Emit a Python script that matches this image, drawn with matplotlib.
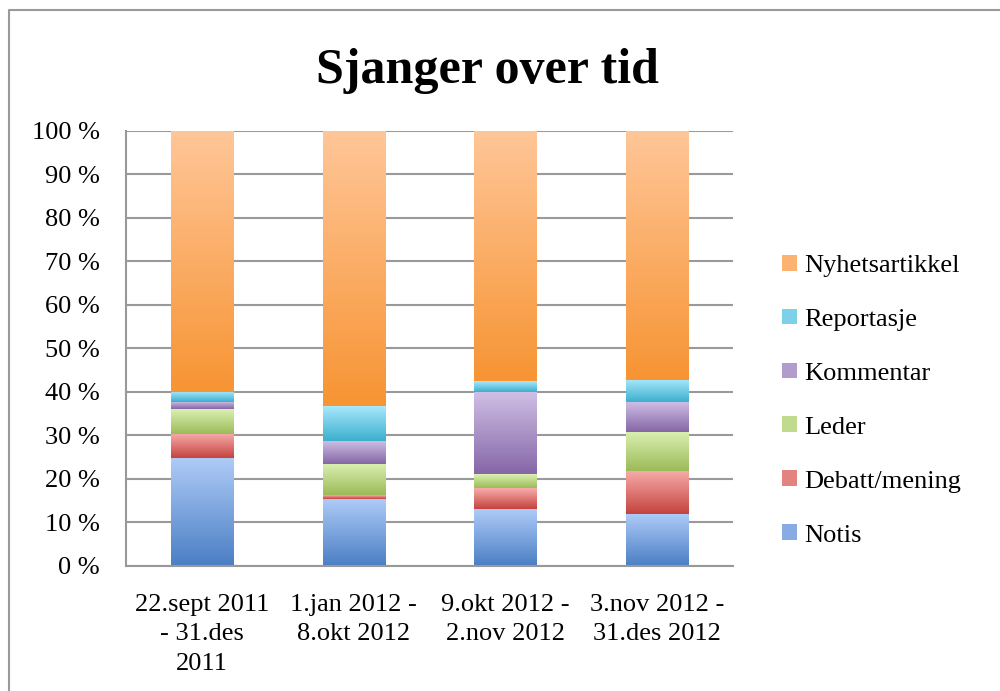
import numpy as np
import matplotlib.pyplot as plt
from matplotlib.colors import LinearSegmentedColormap
from matplotlib.patches import Rectangle
from matplotlib.lines import Line2D

plt.rcParams['font.family'] = ['Liberation Serif', 'DejaVu Serif']

# Daten (Anteile in Prozent)
perioder = ['22.sept 2011\n- 31.des\n2011', '1.jan 2012 -\n8.okt 2012',
            '9.okt 2012 -\n2.nov 2012', '3.nov 2012 -\n31.des 2012']
sjangre = ['Notis', 'Debatt/mening', 'Leder', 'Kommentar', 'Reportasje', 'Nyhetsartikkel']
notis = [24.8, 15.4, 13.1, 11.9]
debatt = [5.6, 0.9, 4.8, 9.9]
leder = [5.7, 7.2, 3.2, 9.0]
kommentar = [1.7, 5.3, 19.0, 6.9]
reportasje = [2.3, 8.0, 2.3, 5.1]
nyhet = [59.9, 63.2, 57.6, 57.2]
serier = [notis, debatt, leder, kommentar, reportasje, nyhet]

# Farben: (dunkel unten, hell oben)
farben = [('#4A7EC4', '#AECBF7'), ('#C4433E', '#F8ADAB'), ('#9CBB58', '#DAF0B2'),
          ('#8566A6', '#D0C0E6'), ('#3BAFCD', '#A8E8FC'), ('#F79433', '#FFC698')]

fig = plt.figure(figsize=(10, 6.91), dpi=100)
ax = fig.add_axes([0.126, 0.181, 0.607, 0.6295])

x = np.arange(len(perioder))
grad = np.linspace(0, 1, 256).reshape(-1, 1)
bunn = np.zeros(len(perioder))
handles = []
for navn, verdier, (mork, lys) in zip(sjangre, serier, farben):
    bars = ax.bar(x, verdier, 0.41, bottom=bunn, color=mork, zorder=2, label=navn)
    cmap = LinearSegmentedColormap.from_list(navn, [mork, lys])
    for b in bars:
        b.set_facecolor('none')
        bx, by = b.get_x(), b.get_y()
        ax.imshow(grad, extent=[bx, bx + b.get_width(), by, by + b.get_height()],
                  origin='lower', aspect='auto', cmap=cmap, zorder=2)
    handles.append(Rectangle((0, 0), 1, 1, facecolor=cmap(0.6), edgecolor='none'))
    bunn += np.array(verdier)

ax.set_xlim(-0.5, 3.5)
ax.set_ylim(0, 100)
ax.set_yticks(np.arange(0, 101, 10))
ax.set_yticklabels([f'{v} %' for v in range(0, 101, 10)], fontsize=19)
ax.set_xticks(x)
ax.set_xticklabels(perioder, fontsize=19, linespacing=1.45)
ax.tick_params(axis='x', length=0, pad=20)
ax.tick_params(axis='y', length=0, pad=19)
ax.yaxis.grid(True, color='#999999', linewidth=1.5, zorder=0)
for s in ['top', 'right']:
    ax.spines[s].set_visible(False)
for s in ['left', 'bottom']:
    ax.spines[s].set_color('#999999')
    ax.spines[s].set_linewidth(1.5)

fig.text(0.487, 0.897, 'Sjanger over tid', fontsize=36, fontweight='bold',
         ha='center', va='center')

ax.legend(handles[::-1], sjangre[::-1], loc='center left', bbox_to_anchor=(1.042, 0.38),
          frameon=False, fontsize=19, handlelength=0.55, handleheight=0.55,
          handletextpad=0.3, labelspacing=1.2)

# Rahmen oben und links
fig.add_artist(Line2D([0.009, 0.009, 1.0], [0.0, 0.985, 0.985], transform=fig.transFigure,
                      color='#999999', linewidth=1.5))

plt.savefig('out.png')
